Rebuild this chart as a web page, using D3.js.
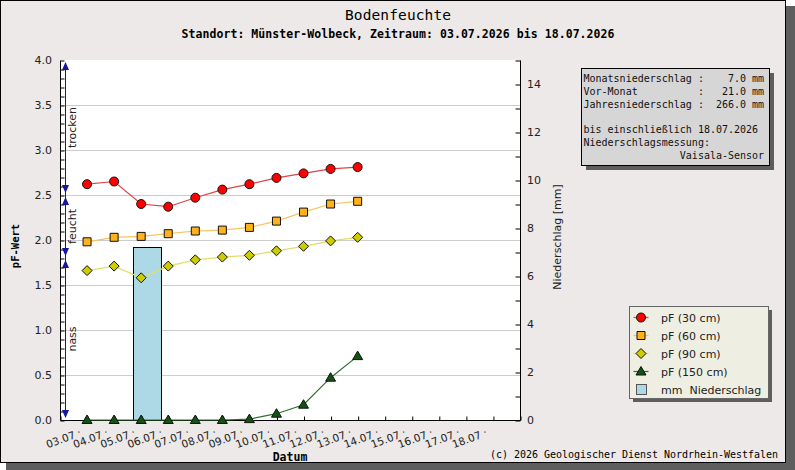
<!DOCTYPE html>
<meta charset="utf-8">
<style>
body { margin: 0; }
text { font-family: "DejaVu Sans", sans-serif; }
.mono { font-family: "DejaVu Sans Mono", monospace; white-space: pre; }
</style>
<svg width="795" height="470"></svg>
<script src="https://cdn.jsdelivr.net/npm/d3@7"></script>
<script>

// dates shown on the x axis, index 0 = 03.07
var dates = ["03.07", "04.07", "05.07", "06.07", "07.07", "08.07", "09.07", "10.07",
             "11.07", "12.07", "13.07", "14.07", "15.07", "16.07", "17.07", "18.07"];

// pF values per depth (03.07 - 13.07)
var pf30  = [2.62, 2.65, 2.40, 2.37, 2.47, 2.56, 2.62, 2.69, 2.74, 2.79, 2.81];
var pf60  = [1.98, 2.03, 2.04, 2.07, 2.10, 2.11, 2.14, 2.21, 2.31, 2.40, 2.43];
var pf90  = [1.66, 1.71, 1.58, 1.71, 1.78, 1.81, 1.83, 1.88, 1.93, 1.99, 2.03];
var pf150 = [0.00, 0.00, 0.00, 0.00, 0.00, 0.00, 0.01, 0.07, 0.17, 0.47, 0.71];

// daily rain in mm
var rain = [0, 0, 7.2, 0, 0, 0, 0, 0, 0, 0, 0];

// moisture classes on the left edge
var classes = [
  {name: "trocken", from: 2.5, to: 4.0},
  {name: "feucht",  from: 1.8, to: 2.5},
  {name: "nass",    from: 0.0, to: 1.8}
];

var pfTicks = [0, 0.5, 1, 1.5, 2, 2.5, 3, 3.5, 4];
var mmTicks = [0, 2, 4, 6, 8, 10, 12, 14];

var info = [
  "Monatsniederschlag :    7.0 mm",
  "Vor-Monat          :   21.0 mm",
  "Jahresniederschlag :  266.0 mm",
  "",
  "bis einschließlich 18.07.2026",
  "Niederschlagsmessung:",
  "                Vaisala-Sensor"
];

var series = [
  {name: "pF (30 cm)",  values: pf30,  line: "#dd4444", fill: "#ff0000", shape: "circle"},
  {name: "pF (60 cm)",  values: pf60,  line: "#f6c462", fill: "#ffb21c", shape: "square"},
  {name: "pF (90 cm)",  values: pf90,  line: "#e2de6a", fill: "#cccc00", shape: "diamond"},
  {name: "pF (150 cm)", values: pf150, line: "#2f6f2f", fill: "#145214", shape: "triangle"}
];

var svg = d3.select("svg");

var pL = 60, pR = 520, pT = 60, pB = 420;

var x = d3.scaleLinear().domain([-1, 16]).range([pL, pR]);
var y = d3.scaleLinear().domain([0, 4]).range([pB, pT]);
var yr = d3.scaleLinear().domain([0, 15]).range([pB, pT]);

// frame with shadow
svg.append("rect").attr("x", 6).attr("y", 6).attr("width", 789).attr("height", 464).attr("fill", "#5e5e5e");
svg.append("rect").attr("x", 0.5).attr("y", 0.5).attr("width", 785).attr("height", 462)
    .attr("fill", "#ece9e8").attr("stroke", "#000");

// plot area
svg.append("rect").attr("x", pL).attr("y", pT).attr("width", pR - pL).attr("height", pB - pT)
    .attr("fill", "#fff");

svg.append("g").selectAll("line")
    .data(pfTicks.filter(function(d) { return d > 0 && d < 4; }))
  .enter().append("line")
    .attr("x1", pL).attr("x2", pR)
    .attr("y1", function(d) { return Math.round(y(d)) + 0.5; })
    .attr("y2", function(d) { return Math.round(y(d)) + 0.5; })
    .attr("stroke", "#cccccc");

// rain bars
svg.append("g").selectAll("rect")
    .data(rain.map(function(v, i) { return {i: i, v: v}; }).filter(function(d) { return d.v > 0; }))
  .enter().append("rect")
    .attr("x", function(d) { return Math.round(x(d.i - 0.32)) + 0.5; })
    .attr("width", function(d) { return Math.round(x(d.i + 0.71) - x(d.i - 0.32)); })
    .attr("y", function(d) { return Math.round(yr(d.v)) + 0.5; })
    .attr("height", function(d) { return pB - Math.round(yr(d.v)); })
    .attr("fill", "#add8e6").attr("stroke", "#000");

// axes
var axisY = d3.axisLeft(y).tickValues(d3.range(0, 41).map(function(d) { return d / 10; }))
    .tickSize(-4).tickFormat("");
svg.append("g").attr("transform", "translate(" + (pL + 0.5) + ",0.5)").call(axisY)
    .call(function(g) { g.select(".domain").attr("d", "M0," + pT + "V" + pB); });

svg.append("g").selectAll("text")
    .data(pfTicks)
  .enter().append("text")
    .attr("x", pL - 8).attr("y", function(d) { return y(d) + 4; })
    .attr("text-anchor", "end").attr("font-size", 11).attr("fill", "#222")
    .text(function(d) { return d.toFixed(1); });

var axisR = d3.axisRight(yr).tickValues(d3.range(0, 16)).tickSize(-5).tickFormat("");
svg.append("g").attr("transform", "translate(" + (pR + 0.5) + ",0.5)").call(axisR)
    .call(function(g) { g.select(".domain").attr("d", "M0," + pT + "V" + pB); });

svg.append("g").selectAll("text")
    .data(mmTicks)
  .enter().append("text")
    .attr("x", pR + 7).attr("y", function(d) { return yr(d) + 4; })
    .attr("font-size", 11).attr("fill", "#222")
    .text(function(d) { return d; });

var axisX = d3.axisBottom(x).tickValues(d3.range(-1, 17)).tickSize(-4).tickFormat("");
svg.append("g").attr("transform", "translate(0.5," + (pB + 0.5) + ")").call(axisX)
    .call(function(g) { g.select(".domain").attr("d", "M" + pL + ",0H" + pR); });

// rotated date labels, with the trailing dot set a bit apart
var xl = svg.append("g").selectAll("g")
    .data(dates)
  .enter().append("g")
    .attr("transform", function(d, i) { return "translate(" + (x(i) - 11) + ",438) rotate(-20)"; })
    .attr("font-size", 10.5).attr("fill", "#222");
xl.append("text").attr("text-anchor", "end").text(function(d) { return d; });
xl.append("text").attr("x", 3).attr("y", -4).text(".");

// moisture class arrows
var cls = svg.append("g").attr("fill", "#1515a0");
cls.append("line").attr("x1", 65.5).attr("x2", 65.5).attr("y1", y(4) + 3).attr("y2", y(0) - 3)
    .attr("stroke", "#1515a0");
classes.forEach(function(c) {
  var t = y(c.to) + 2, b = y(c.from) - 2;
  cls.append("path").attr("d", "M65.5," + t + "l-3.5,8h7z");
  cls.append("path").attr("d", "M65.5," + b + "l-3.5,-8h7z");
  svg.append("text")
      .attr("transform", "translate(76," + ((t + b) / 2) + ") rotate(-90)")
      .attr("text-anchor", "middle").attr("font-size", 11).attr("fill", "#222")
      .text(c.name);
});

// pF lines and markers
var line = d3.line().x(function(d, i) { return x(i); }).y(function(d) { return y(d); });

function marker(sel, shape) {
  if (shape === "circle") return sel.append("circle").attr("r", 4.5);
  var p = {
    square: "M-4,-4h8v8h-8z",
    diamond: "M0,-5L5,0L0,5L-5,0z",
    triangle: "M0,-5L5,3.5H-5z"
  }[shape];
  return sel.append("path").attr("d", p);
}

series.slice().reverse().forEach(function(s) {
  svg.append("path").datum(s.values).attr("d", line)
      .attr("fill", "none").attr("stroke", s.line).attr("stroke-width", 1.2);
});
series.slice().reverse().forEach(function(s) {
  var g = svg.append("g").selectAll("g")
      .data(s.values)
    .enter().append("g")
      .attr("transform", function(d, i) { return "translate(" + x(i) + "," + y(d) + ")"; });
  marker(g, s.shape).attr("fill", s.fill).attr("stroke", "#111").attr("stroke-width", 1);
});

// titles
svg.append("text").attr("class", "mono").attr("x", 398).attr("y", 20)
    .attr("text-anchor", "middle").attr("font-size", 14.5).attr("textLength", 106)
    .text("Bodenfeuchte");
svg.append("text").attr("class", "mono").attr("x", 398).attr("y", 38)
    .attr("text-anchor", "middle").attr("font-size", 11.5).attr("font-weight", "bold")
    .attr("textLength", 433)
    .text("Standort: Münster-Wolbeck, Zeitraum: 03.07.2026 bis 18.07.2026");

svg.append("text").attr("class", "mono")
    .attr("transform", "translate(19,246) rotate(-90)")
    .attr("text-anchor", "middle").attr("font-size", 10.5).attr("font-weight", "bold")
    .text("pF-Wert");
svg.append("text")
    .attr("transform", "translate(561,237) rotate(-90)")
    .attr("text-anchor", "middle").attr("font-size", 11).attr("fill", "#222")
    .text("Niederschlag [mm]");
svg.append("text").attr("class", "mono").attr("x", 290).attr("y", 461)
    .attr("text-anchor", "middle").attr("font-size", 11.5).attr("font-weight", "bold")
    .text("Datum");
svg.append("text").attr("class", "mono").attr("x", 778).attr("y", 458)
    .attr("text-anchor", "end").attr("font-size", 10).attr("textLength", 288)
    .text("(c) 2026 Geologischer Dienst Nordrhein-Westfalen");

// info box
svg.append("rect").attr("x", 586).attr("y", 73).attr("width", 188).attr("height", 97).attr("fill", "#5e5e5e");
svg.append("rect").attr("x", 581.5).attr("y", 68.5).attr("width", 188).attr("height", 97)
    .attr("fill", "#d6d6d6").attr("stroke", "#000");
svg.append("g").selectAll("text")
    .data(info)
  .enter().append("text").attr("class", "mono")
    .attr("x", 583.5).attr("y", function(d, i) { return 82 + i * 12.8; })
    .attr("font-size", 10).attr("fill", "#111")
    .text(function(d) { return d; });

// legend
svg.append("rect").attr("x", 633).attr("y", 310).attr("width", 139).attr("height", 92).attr("fill", "#5e5e5e");
svg.append("rect").attr("x", 629.5).attr("y", 306.5).attr("width", 139).attr("height", 92)
    .attr("fill", "#eeeee2").attr("stroke", "#666");

var lg = svg.append("g").selectAll("g")
    .data(series)
  .enter().append("g")
    .attr("transform", function(d, i) { return "translate(641," + (317.5 + i * 18) + ")"; });
lg.append("line").attr("x1", -7.5).attr("x2", 7.5).attr("stroke", function(d) { return d.line; })
    .attr("stroke-width", 1.2);
lg.each(function(d) {
  marker(d3.select(this), d.shape).attr("fill", d.fill).attr("stroke", "#111");
});
lg.append("text").attr("x", 20).attr("y", 4).attr("font-size", 11).attr("fill", "#222")
    .text(function(d) { return d.name; });

svg.append("rect").attr("x", 636.5).attr("y", 384.5).attr("width", 10).attr("height", 10)
    .attr("fill", "#add8e6").attr("stroke", "#555");
svg.append("text").attr("x", 661).attr("y", 394).attr("font-size", 11).attr("fill", "#222")
    .style("white-space", "pre").text("mm  Niederschlag");

</script>
